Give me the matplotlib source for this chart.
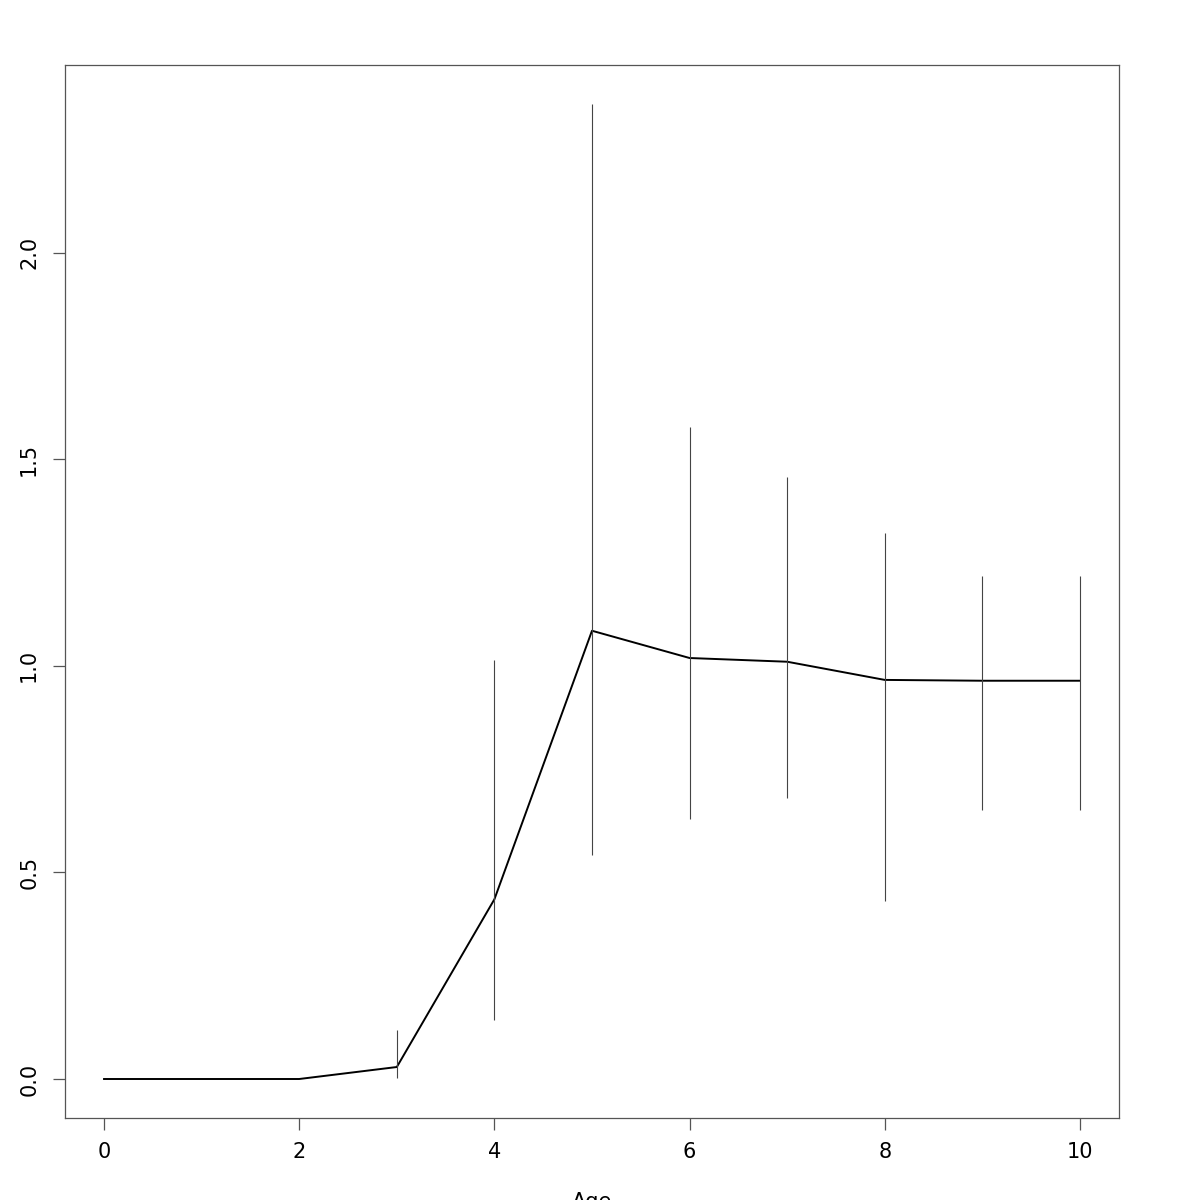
import matplotlib
matplotlib.use("Agg")
import matplotlib.pyplot as plt

age = [0, 2, 3, 4, 5, 6, 7, 8, 9, 10]
mean = [0.0, 0.0, 0.029, 0.435, 1.085, 1.019, 1.010, 0.966, 0.964, 0.964]
err_age = [3, 4, 5, 6, 7, 8, 9, 10]
lower = [0.002, 0.143, 0.543, 0.630, 0.681, 0.432, 0.650, 0.650]
upper = [0.118, 1.014, 2.360, 1.577, 1.457, 1.321, 1.217, 1.217]

fig = plt.figure(figsize=(12, 12), dpi=100)
ax = fig.add_axes([65/1200, 82/1200, (1119-65)/1200, (1118-65)/1200])
ax.plot(age, mean, color="black", lw=1.4)
ax.vlines(err_age, lower, upper, color="#444444", lw=0.8)

ax.set_xlim(-0.4, 10.4)
ax.set_ylim(-0.0944, 2.4544)
ax.set_xticks([0, 2, 4, 6, 8, 10])
ax.set_yticks([0.0, 0.5, 1.0, 1.5, 2.0])
ax.set_yticklabels(["0.0", "0.5", "1.0", "1.5", "2.0"], rotation=90, va="center")
for s in ax.spines.values():
    s.set_color("#555555")
    s.set_linewidth(0.9)
ax.tick_params(direction="out", length=8.6, width=0.9, color="#555555",
               labelsize=15, pad=9)
ax.tick_params(axis="y", pad=10)
ax.set_xlabel("Age", fontsize=15, labelpad=21)
fig.savefig("out.png", dpi=100)
